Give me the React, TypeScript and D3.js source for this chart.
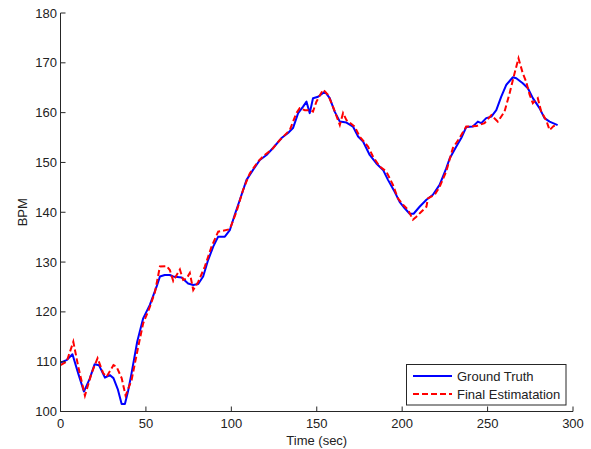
import React from "react";
import * as d3 from "d3";

const gtTime = [0, 3.5, 7, 10.5, 13.7, 17, 20, 22.5, 26, 29, 31, 33.5, 35.8, 37.7, 39.5, 41.6, 44.9, 48.4, 52.3, 56.3, 58.2, 61, 64, 66, 70.9, 74.7, 77.7, 80.6, 83.5, 86.4, 89.4, 92.3, 96.2, 99.1, 102, 105, 108.9, 112.7, 116.7, 120.6, 124.4, 129.4, 133.2, 136.1, 139.1, 142, 144, 145.9, 147.8, 150.8, 154.7, 157.6, 160.5, 163.5, 167.4, 171.2, 174.2, 177.1, 181, 184.9, 188.8, 191.7, 195.6, 198.5, 201.5, 204.4, 206.7, 210.2, 214.2, 218, 221.9, 225.8, 227.8, 231.7, 234.6, 237.5, 241.4, 244.3, 246.3, 249.2, 252.2, 255.1, 258, 261, 264.8, 266.8, 270.6, 273.6, 276.5, 280.4, 283.3, 286.3, 291];
const gtBpm = [109.8, 110.3, 111.5, 107.5, 104.0, 106.5, 109.5, 109.3, 106.8, 107.3, 106.7, 104.5, 101.5, 101.5, 104, 107.7, 114.0, 118.7, 121.4, 125.1, 127.1, 127.4, 127.4, 127.1, 126.9, 125.7, 125.4, 125.6, 127.1, 130.4, 133.1, 135.1, 135.1, 136.4, 139.5, 142.5, 146.5, 148.5, 150.5, 151.5, 152.9, 154.9, 155.9, 156.9, 159.9, 161.2, 162.2, 159.9, 162.9, 163.2, 164.2, 162.9, 160.2, 158.2, 158.0, 157.2, 155.2, 154.2, 151.5, 149.8, 148.5, 146.5, 144.1, 142.1, 140.8, 139.7, 139.7, 141.1, 142.5, 143.5, 145.5, 148.8, 150.8, 153.2, 154.9, 157.1, 157.2, 158.2, 157.9, 158.9, 159.2, 160.5, 163.2, 165.6, 167.1, 166.9, 165.9, 164.9, 162.9, 160.9, 158.9, 158.2, 157.5];

const estTime = [0, 3.6, 7.5, 10.4, 14.3, 18.2, 21.7, 25, 27, 31, 32.8, 35.8, 38.1, 41.6, 45.5, 48.4, 52.3, 55.3, 58.2, 62.1, 64, 66, 69.9, 71.8, 73.8, 75.7, 77.7, 80.6, 84.5, 88.4, 92.3, 95.2, 99.1, 103, 106.9, 110.8, 115.7, 119.5, 123.5, 128.4, 134.2, 138.1, 140, 143, 145.9, 147.8, 149.8, 153.7, 156.6, 159.5, 163.5, 165.4, 167.4, 172.2, 175.1, 180, 182.9, 186.8, 190.7, 194.6, 197.5, 200.5, 203.4, 206.3, 208.3, 211.2, 214.2, 215.1, 219, 221.9, 225.8, 229.7, 233.6, 237.5, 243.4, 248.2, 252.2, 256, 259.9, 262.9, 265.8, 268.1, 270.6, 272.6, 274.6, 276.5, 279.4, 281.4, 284.3, 286.3, 288.6, 291.1];
const estBpm = [109.3, 110, 114.0, 109, 103.2, 107.7, 110.7, 107.7, 107.0, 109.3, 109.0, 106.7, 103.2, 106.3, 113.0, 117.7, 121.0, 124, 129.1, 129.2, 128.4, 126.2, 128.5, 126.4, 126.7, 127.8, 124.4, 126.0, 129.1, 133.1, 136.1, 136.3, 136.6, 140.1, 144.5, 147.8, 150.2, 151.5, 152.5, 154.5, 156.5, 159.9, 160.9, 160.5, 160.5, 160.2, 162.2, 164.6, 163.6, 161.2, 157.5, 159.9, 158.5, 157.2, 155.2, 153.2, 151.2, 149.2, 148.2, 145.5, 142.8, 141.5, 140.5, 138.5, 139.1, 140.1, 141.1, 142.8, 143.5, 145.1, 148.2, 152.9, 154.9, 157.2, 157.3, 157.9, 159.5, 158.2, 160.2, 163.9, 167.9, 170.9, 167.9, 166.2, 163.6, 161.9, 162.9, 160.2, 158.5, 156.5, 157.3, 157.5];

const xTicks = [0, 50, 100, 150, 200, 250, 300];
const yTicks = [100, 110, 120, 130, 140, 150, 160, 170, 180];
const seriesNames = ["Ground Truth", "Final Estimatation"];

const W = 591, H = 449;
const L = 60.5, R = 573, T = 13, B = 411.5;
const FONT = "'Liberation Sans', Arial, sans-serif";
const FS = 13;

export default function App() {
  const x = d3.scaleLinear().domain([0, 300]).range([L, R]);
  const y = d3.scaleLinear().domain([100, 180]).range([B, T]);
  const line = d3.line<[number, number]>().x(d => x(d[0])).y(d => y(d[1]));
  const gt = line(gtTime.map((t, i) => [t, gtBpm[i]] as [number, number])) || "";
  const est = line(estTime.map((t, i) => [t, estBpm[i]] as [number, number])) || "";
  const axisColor = "#262626";
  return (
    <svg width={W} height={H} style={{ position: "absolute", left: 0, top: 0, background: "#fff" }} fontFamily={FONT}>
      <rect x={0} y={0} width={W} height={H} fill="#fff" />
      <path d={gt} fill="none" stroke="#0000ff" strokeWidth={2} strokeLinejoin="round" />
      <path d={est} fill="none" stroke="#ff0000" strokeWidth={2} strokeDasharray="6,3" />
      {/* axes */}
      <line x1={L} x2={L} y1={T} y2={B} stroke={axisColor} strokeWidth={1} />
      <line x1={L} x2={R} y1={B} y2={B} stroke={axisColor} strokeWidth={1} />
      {yTicks.map(v => (
        <g key={"y" + v}>
          <line x1={L} x2={L + 5} y1={y(v)} y2={y(v)} stroke={axisColor} />
          <text x={L - 3.5} y={y(v)} dy="0.35em" textAnchor="end" fontSize={FS} fill="#222">{v}</text>
        </g>
      ))}
      {xTicks.map(v => (
        <g key={"x" + v}>
          <line x1={x(v)} x2={x(v)} y1={B} y2={B - 5} stroke={axisColor} />
          <text x={x(v)} y={B + 16.5} textAnchor="middle" fontSize={FS} fill="#222">{v}</text>
        </g>
      ))}
      <text x={(L + R) / 2} y={445} textAnchor="middle" fontSize={FS} fill="#222">Time (sec)</text>
      <text transform={`translate(27,${(T + B) / 2}) rotate(-90)`} textAnchor="middle" fontSize={FS} fill="#222">BPM</text>
      {/* legend */}
      <rect x={406.5} y={364.5} width={159.5} height={40.5} fill="#fff" stroke={axisColor} strokeWidth={1} />
      <line x1={413} x2={452} y1={376} y2={376} stroke="#0000ff" strokeWidth={2} />
      <text x={457} y={376} dy="0.35em" fontSize={FS} fill="#222">{seriesNames[0]}</text>
      <line x1={413} x2={452} y1={394} y2={394} stroke="#ff0000" strokeWidth={2} strokeDasharray="6,3" />
      <text x={457} y={394} dy="0.35em" fontSize={FS} fill="#222">{seriesNames[1]}</text>
    </svg>
  );
}
